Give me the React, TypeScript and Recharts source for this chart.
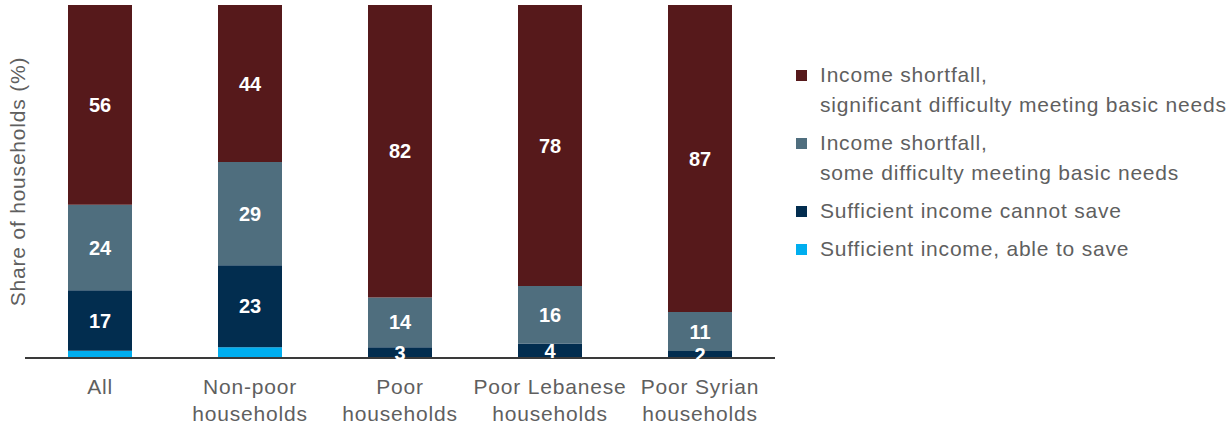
import React from 'react';
import { BarChart, Bar, XAxis, YAxis, LabelList } from 'recharts';

const categories = ['All', 'Non-poor households', 'Poor households', 'Poor Lebanese households', 'Poor Syrian households'];
const significantDifficulty = [56, 44, 82, 78, 87];
const someDifficulty = [24, 29, 14, 16, 11];
const cannotSave = [17, 23, 3, 4, 2];
const ableToSave = [2, 3, 0, 0, 0];

const series = [
  { key: 'significant', label: ['Income shortfall,', 'significant difficulty meeting basic needs'], color: '#56191b', showLabel: true },
  { key: 'some', label: ['Income shortfall,', 'some difficulty meeting basic needs'], color: '#4f6e7e', showLabel: true },
  { key: 'cannotSave', label: ['Sufficient income cannot save'], color: '#022d4f', showLabel: true },
  { key: 'ableToSave', label: ['Sufficient income, able to save'], color: '#00aeef', showLabel: false },
];

const data = categories.map((name, i) => ({
  name,
  significant: significantDifficulty[i],
  some: someDifficulty[i],
  cannotSave: cannotSave[i],
  ableToSave: ableToSave[i],
}));

const FONT = '"Liberation Sans", Arial, sans-serif';
const TEXT = '#5f5f5f';
const SPACING = 0.8;

const CategoryTick = (props: any) => {
  const { x, y, payload } = props;
  const name: string = payload.value;
  const cut = name.lastIndexOf(' ');
  const lines = cut > 0 ? [name.slice(0, cut), name.slice(cut + 1)] : [name];
  return (
    <text x={x} y={y} textAnchor="middle" fill={TEXT} fontSize={21} fontFamily={FONT} letterSpacing={SPACING}>
      {lines.map((l, i) => (
        <tspan key={l} x={x} dy={i === 0 ? 36 : 27}>{l}</tspan>
      ))}
    </text>
  );
};

export default function App() {
  // bottom-up stacking order
  const stackOrder = [...series].reverse();

  return (
    <div style={{ position: 'absolute', left: 0, top: 0, width: 1231, height: 425, background: '#fff', fontFamily: FONT }}>
      <BarChart
        width={790}
        height={425}
        data={data}
        stackOffset="expand"
        margin={{ top: 5, right: 15, left: 0, bottom: 0 }}
      >
        <YAxis
          width={25}
          tick={false}
          axisLine={false}
          tickLine={false}
          label={{ value: 'Share of households (%)', angle: -90, position: 'center', dx: 5, fill: TEXT, fontSize: 21, fontFamily: FONT, letterSpacing: SPACING }}
        />
        <XAxis
          dataKey="name"
          height={67}
          axisLine={{ stroke: '#3a3a3a', strokeWidth: 2 }}
          tickLine={false}
          tickSize={0}
          tickMargin={0}
          interval={0}
          tick={<CategoryTick />}
        />
        {stackOrder.map((s) => (
          <Bar key={s.key} dataKey={s.key} stackId="a" fill={s.color} barSize={64} isAnimationActive={false}>
            {s.showLabel && (
              <LabelList
                dataKey={s.key}
                position="center"
                fill="#ffffff"
                fontSize={20}
                fontWeight="bold"
                fontFamily={FONT}
              />
            )}
          </Bar>
        ))}
      </BarChart>
      <div style={{ position: 'absolute', left: 796, top: 60, color: TEXT, fontSize: 21, letterSpacing: SPACING, lineHeight: '30px' }}>
        {series.map((s) => (
          <div key={s.key} style={{ display: 'flex', alignItems: 'flex-start', marginBottom: 8 }}>
            <div style={{ width: 11, height: 11, background: s.color, marginTop: 10, marginRight: 13, flexShrink: 0 }} />
            <div style={{ whiteSpace: 'nowrap' }}>
              {s.label.map((l) => (
                <div key={l}>{l}</div>
              ))}
            </div>
          </div>
        ))}
      </div>
    </div>
  );
}
